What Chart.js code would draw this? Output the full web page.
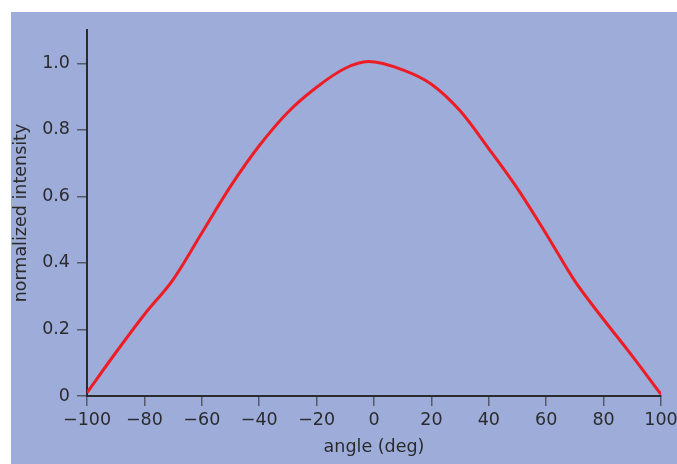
<!DOCTYPE html>
<html>
<head>
<meta charset="utf-8">
<script src="https://cdn.jsdelivr.net/npm/chart.js@4"></script>
<style>
  html, body { margin: 0; padding: 0; background: #ffffff; }
  #wrap { position: absolute; left: 11px; top: 12px; width: 666px; height: 452px; background: #9dacd8; }
</style>
</head>
<body>
<div id="wrap"><canvas id="anguloChart" width="666" height="452"></canvas></div>
<script>
// Datos
const angles = [-100, -90, -80, -70, -60, -50, -40, -30, -20, -10, -2, 10, 20, 30, 40, 50, 60, 70, 80, 90, 100];
const intensity = [0.01, 0.13, 0.245, 0.35, 0.49, 0.63, 0.752, 0.853, 0.928, 0.985, 1.005, 0.98, 0.937, 0.857, 0.743, 0.623, 0.487, 0.345, 0.23, 0.12, 0.005];
const xTicks = [-100, -80, -60, -40, -20, 0, 20, 40, 60, 80, 100];
const yTicks = [0, 0.2, 0.4, 0.6, 0.8, 1.0];

const ink = '#2b2b2e';
const tickFont = { family: 'DejaVu Sans', size: 17.5 };
const titleFont = { family: 'DejaVu Sans', size: 17.5 };

document.addEventListener('DOMContentLoaded', function() {
    const ctx = document.getElementById('anguloChart').getContext('2d');
    new Chart(ctx, {
        type: 'line',
        data: {
            datasets: [{
                data: angles.map((a, i) => ({ x: a, y: intensity[i] })),
                borderColor: '#ee1c25',
                borderWidth: 3,
                pointRadius: 0,
                cubicInterpolationMode: 'monotone',
                fill: false
            }]
        },
        options: {
            responsive: false,
            animation: false,
            layout: { padding: { top: 18, left: 0, right: 0, bottom: 0 } },
            plugins: { legend: { display: false }, tooltip: { enabled: false } },
            scales: {
                x: {
                    type: 'linear',
                    min: -100,
                    max: 100,
                    // el "100" final casi toca el borde derecho
                    afterFit: s => { s.height = 68; s.paddingRight = 16; },
                    afterBuildTicks: s => { s.ticks = xTicks.map(v => ({ value: v })); },
                    border: { display: true, color: ink, width: 2 },
                    grid: { drawOnChartArea: false, drawTicks: true, tickLength: 10, color: '#555a66', lineWidth: 1.5 },
                    ticks: {
                        color: ink,
                        font: tickFont,
                        padding: 4,
                        maxRotation: 0,
                        callback: v => (v < 0 ? '\u2212' + Math.abs(v) : String(v))
                    },
                    title: {
                        display: true,
                        text: 'angle (deg)',
                        color: ink,
                        font: titleFont,
                        padding: { top: 0, bottom: 6 }
                    }
                },
                y: {
                    min: 0,
                    max: 1.1,
                    afterFit: s => { s.width = 76; },
                    afterBuildTicks: s => { s.ticks = yTicks.map(v => ({ value: v })); },
                    border: { display: true, color: ink, width: 2 },
                    grid: { drawOnChartArea: false, drawTicks: true, tickLength: 10, color: '#555a66', lineWidth: 1.5 },
                    ticks: {
                        color: ink,
                        font: tickFont,
                        padding: 7,
                        callback: v => (v === 0 ? '0' : v.toFixed(1))
                    },
                    title: {
                        display: true,
                        text: 'normalized intensity',
                        color: ink,
                        font: titleFont,
                        padding: { top: 0, bottom: 0 }
                    }
                }
            }
        }
    });
});
</script>
</body>
</html>
